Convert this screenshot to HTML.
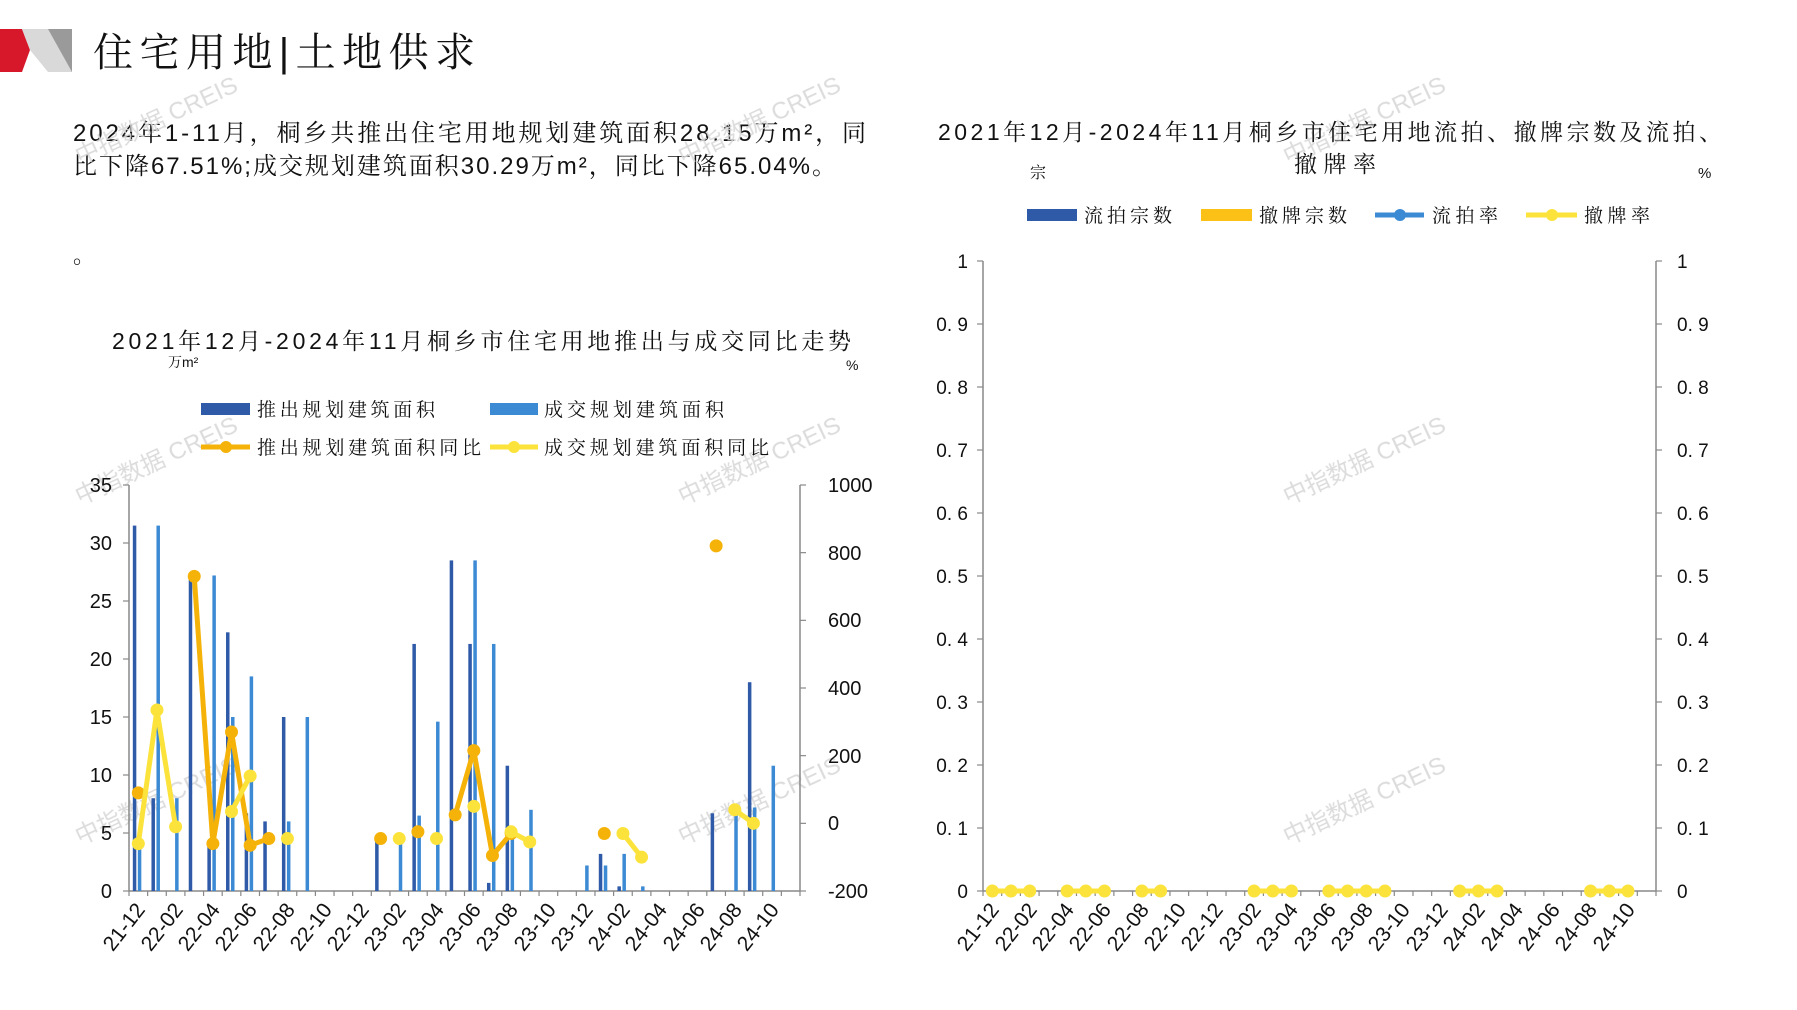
<!DOCTYPE html>
<html><head><meta charset="utf-8">
<style>
html,body{margin:0;padding:0;background:#fff;}
svg{display:block;font-family:"Liberation Sans","Noto Serif CJK SC",serif;}
</style></head>
<body>
<svg id="s" width="1797" height="1010" viewBox="0 0 1797 1010" xmlns="http://www.w3.org/2000/svg">
<polygon points="0,29 22,29 30,50 22,72 0,72" fill="#d7182a"/>
<polygon points="22,29 72,29 72,72 48,72 30,50" fill="#d9d9d9"/>
<polygon points="48,29 72,29 72,72" fill="#9a9a9a"/>
<text x="93" y="66" font-size="40" fill="#111" textLength="382">住宅用地|土地供求</text>
<text x="73" y="141" font-size="24" fill="#111" textLength="793">2024年1-11月，桐乡共推出住宅用地规划建筑面积28.15万m²，同</text>
<text x="73" y="174" font-size="24" fill="#111" textLength="763">比下降67.51%;成交规划建筑面积30.29万m²，同比下降65.04%。</text>
<text x="73" y="263" font-size="22" fill="#111">。</text>

<g fill="#d8d8d8" font-size="24" opacity="0.9" font-family="'Liberation Sans','Noto Sans CJK SC',sans-serif">
<text transform="translate(80,505) rotate(-25)">中指数据 CREIS</text>
<text transform="translate(683,505) rotate(-25)">中指数据 CREIS</text>
<text transform="translate(1288,505) rotate(-25)">中指数据 CREIS</text>
<text transform="translate(80,845) rotate(-25)">中指数据 CREIS</text>
<text transform="translate(683,845) rotate(-25)">中指数据 CREIS</text>
<text transform="translate(1288,845) rotate(-25)">中指数据 CREIS</text>
<text transform="translate(80,165) rotate(-25)">中指数据 CREIS</text>
<text transform="translate(683,165) rotate(-25)">中指数据 CREIS</text>
<text transform="translate(1288,165) rotate(-25)">中指数据 CREIS</text>
</g>

<!-- LEFT CHART -->
<text x="112" y="349" font-size="23" fill="#111" textLength="739">2021年12月-2024年11月桐乡市住宅用地推出与成交同比走势</text>
<text x="168" y="367" font-size="14" fill="#111">万m²</text>
<text x="846" y="370" font-size="14" fill="#111">%</text>
<rect x="201" y="403" width="49" height="12" fill="#2e5aa8"/>
<text x="257" y="416" font-size="19" fill="#111" textLength="178">推出规划建筑面积</text>
<rect x="490" y="403" width="48" height="12" fill="#3c8ad4"/>
<text x="544" y="416" font-size="19" fill="#111" textLength="180">成交规划建筑面积</text>
<line x1="201" y1="447" x2="250" y2="447" stroke="#f5b30a" stroke-width="5"/><circle cx="226" cy="447" r="6" fill="#f5b30a"/>
<text x="257" y="454" font-size="19" fill="#111" textLength="224">推出规划建筑面积同比</text>
<line x1="490" y1="447" x2="538" y2="447" stroke="#fbe33c" stroke-width="5"/><circle cx="514" cy="447" r="6" fill="#fbe33c"/>
<text x="544" y="454" font-size="19" fill="#111" textLength="225">成交规划建筑面积同比</text>

<g stroke="#888" stroke-width="1.5" fill="none">
<line x1="129" y1="485" x2="129" y2="891"/>
<line x1="800" y1="485" x2="800" y2="891"/>
<line x1="129" y1="891" x2="800" y2="891"/>
</g>
<g id="lticks" stroke="#888" stroke-width="1.2"></g>
<g font-size="20" fill="#111" text-anchor="end">
<text x="112" y="898">0</text><text x="112" y="840">5</text><text x="112" y="782">10</text><text x="112" y="724">15</text><text x="112" y="666">20</text><text x="112" y="608">25</text><text x="112" y="550">30</text><text x="112" y="492">35</text>
</g>
<g font-size="20" fill="#111">
<text x="828" y="898">-200</text><text x="828" y="830">0</text><text x="828" y="763">200</text><text x="828" y="695">400</text><text x="828" y="627">600</text><text x="828" y="560">800</text><text x="828" y="492">1000</text>
</g>
<g id="lbars"></g>
<g id="llines"></g>
<g font-size="21" fill="#111" text-anchor="end">
<text transform="translate(146,910) rotate(-52)">21-12</text>
<text transform="translate(184,910) rotate(-52)">22-02</text>
<text transform="translate(221,910) rotate(-52)">22-04</text>
<text transform="translate(258,910) rotate(-52)">22-06</text>
<text transform="translate(296,910) rotate(-52)">22-08</text>
<text transform="translate(333,910) rotate(-52)">22-10</text>
<text transform="translate(370,910) rotate(-52)">22-12</text>
<text transform="translate(407,910) rotate(-52)">23-02</text>
<text transform="translate(445,910) rotate(-52)">23-04</text>
<text transform="translate(482,910) rotate(-52)">23-06</text>
<text transform="translate(519,910) rotate(-52)">23-08</text>
<text transform="translate(557,910) rotate(-52)">23-10</text>
<text transform="translate(594,910) rotate(-52)">23-12</text>
<text transform="translate(631,910) rotate(-52)">24-02</text>
<text transform="translate(668,910) rotate(-52)">24-04</text>
<text transform="translate(706,910) rotate(-52)">24-06</text>
<text transform="translate(743,910) rotate(-52)">24-08</text>
<text transform="translate(780,910) rotate(-52)">24-10</text>
</g>

<!-- RIGHT CHART -->
<text x="938" y="140" font-size="23" fill="#111" textLength="784">2021年12月-2024年11月桐乡市住宅用地流拍、撤牌宗数及流拍、</text>
<text x="1294" y="172" font-size="23" fill="#111" textLength="82">撤牌率</text>
<text x="1030" y="178" font-size="16" fill="#111">宗</text>
<text x="1698" y="178" font-size="15" fill="#111">%</text>
<rect x="1027" y="209" width="50" height="12" fill="#2e5aa8"/>
<text x="1084" y="222" font-size="19" fill="#111" textLength="88">流拍宗数</text>
<rect x="1201" y="209" width="51" height="12" fill="#fbc116"/>
<text x="1259" y="222" font-size="19" fill="#111" textLength="88">撤牌宗数</text>
<line x1="1375" y1="215" x2="1424" y2="215" stroke="#3c8ad4" stroke-width="5"/><circle cx="1400" cy="215" r="6" fill="#3c8ad4"/>
<text x="1432" y="222" font-size="19" fill="#111" textLength="66">流拍率</text>
<line x1="1526" y1="215" x2="1577" y2="215" stroke="#fbe33c" stroke-width="5"/><circle cx="1552" cy="215" r="6" fill="#fbe33c"/>
<text x="1584" y="222" font-size="19" fill="#111" textLength="66">撤牌率</text>
<g stroke="#888" stroke-width="1.5">
<line x1="983" y1="261" x2="983" y2="891"/>
<line x1="1656" y1="261" x2="1656" y2="891"/>
<line x1="983" y1="891" x2="1656" y2="891"/>
</g>
<g id="rticks" stroke="#888" stroke-width="1.2"></g>
<g font-size="19" fill="#111" text-anchor="end">
<text x="968" y="898">0</text><text x="968" y="835">0. 1</text><text x="968" y="772">0. 2</text><text x="968" y="709">0. 3</text><text x="968" y="646">0. 4</text><text x="968" y="583">0. 5</text><text x="968" y="520">0. 6</text><text x="968" y="457">0. 7</text><text x="968" y="394">0. 8</text><text x="968" y="331">0. 9</text><text x="968" y="268">1</text>
</g>
<g font-size="19" fill="#111">
<text x="1677" y="898">0</text><text x="1677" y="835">0. 1</text><text x="1677" y="772">0. 2</text><text x="1677" y="709">0. 3</text><text x="1677" y="646">0. 4</text><text x="1677" y="583">0. 5</text><text x="1677" y="520">0. 6</text><text x="1677" y="457">0. 7</text><text x="1677" y="394">0. 8</text><text x="1677" y="331">0. 9</text><text x="1677" y="268">1</text>
</g>
<g id="rdots"></g>
<g font-size="21" fill="#111" text-anchor="end">
<text transform="translate(1000,910) rotate(-52)">21-12</text>
<text transform="translate(1038,910) rotate(-52)">22-02</text>
<text transform="translate(1075,910) rotate(-52)">22-04</text>
<text transform="translate(1112,910) rotate(-52)">22-06</text>
<text transform="translate(1150,910) rotate(-52)">22-08</text>
<text transform="translate(1187,910) rotate(-52)">22-10</text>
<text transform="translate(1224,910) rotate(-52)">22-12</text>
<text transform="translate(1262,910) rotate(-52)">23-02</text>
<text transform="translate(1299,910) rotate(-52)">23-04</text>
<text transform="translate(1337,910) rotate(-52)">23-06</text>
<text transform="translate(1374,910) rotate(-52)">23-08</text>
<text transform="translate(1411,910) rotate(-52)">23-10</text>
<text transform="translate(1449,910) rotate(-52)">23-12</text>
<text transform="translate(1486,910) rotate(-52)">24-02</text>
<text transform="translate(1524,910) rotate(-52)">24-04</text>
<text transform="translate(1561,910) rotate(-52)">24-06</text>
<text transform="translate(1598,910) rotate(-52)">24-08</text>
<text transform="translate(1636,910) rotate(-52)">24-10</text>
</g>
</svg>
<script>
(function(){
var NS="http://www.w3.org/2000/svg";
function el(p,t,a){var e=document.createElementNS(NS,t);for(var k in a)e.setAttribute(k,a[k]);document.getElementById(p).appendChild(e);return e;}
var L0=129,LW=671/36,B=891,H=406;
function X(i){return L0+LW*(i+0.5);}
function YL(v){return B-v*H/35;}
function YR(v){return B-(v+200)*H/1200;}
for(var i=0;i<=36;i++){var x=L0+LW*i;el("lticks","line",{x1:x,y1:B,x2:x,y2:B+5});}
[0,5,10,15,20,25,30,35].forEach(function(v){el("lticks","line",{x1:123,y1:YL(v),x2:129,y2:YL(v)});});
for(var v=-200;v<=1000;v+=200){el("lticks","line",{x1:800,y1:YR(v),x2:806,y2:YR(v)});}
var dark={0:31.5,1:8,3:27,4:3.8,5:22.3,6:6.7,7:6,8:15,13:4.5,15:21.3,17:28.5,18:21.3,19:0.7,20:10.8,25:3.2,26:0.4,31:6.7,33:18};
var light={0:3.9,1:31.5,2:8,4:27.2,5:15,6:18.5,8:6,9:15,14:4.5,15:6.5,16:14.6,18:28.5,19:21.3,20:5,21:7,24:2.2,25:2.2,26:3.2,27:0.4,32:7,33:7.2,34:10.8};
for(var k in dark){var x=X(+k)-5.5;el("lbars","rect",{x:x,y:YL(dark[k]),width:3.5,height:dark[k]*H/35,fill:"#2e5aa8"});}
for(var k in light){var x=X(+k)-0.5;el("lbars","rect",{x:x,y:YL(light[k]),width:3.5,height:light[k]*H/35,fill:"#3c8ad4"});}
function series(d,c){
 var keys=Object.keys(d).map(Number).sort(function(a,b){return a-b;});
 for(var j=0;j<keys.length-1;j++){if(keys[j+1]==keys[j]+1){el("llines","line",{x1:X(keys[j]),y1:YR(d[keys[j]]),x2:X(keys[j+1]),y2:YR(d[keys[j+1]]),stroke:c,"stroke-width":5,"stroke-linecap":"round"});}}
 keys.forEach(function(k){el("llines","circle",{cx:X(k),cy:YR(d[k]),r:6.5,fill:c});});
}
series({0:90,3:730,4:-60,5:270,6:-65,7:-45,13:-45,15:-25,17:25,18:215,19:-95,20:-30,25:-30,31:820},"#f5b30a");
series({0:-60,1:335,2:-10,5:35,6:140,8:-45,14:-45,16:-45,18:50,20:-25,21:-55,26:-30,27:-100,32:40,33:0},"#fbe33c");
var R0=983,RW=673/36,RB=891,RH=630;
function RX(i){return R0+RW*(i+0.5);}
for(var i=0;i<=36;i++){var x=R0+RW*i;el("rticks","line",{x1:x,y1:RB,x2:x,y2:RB+5});}
for(var t=0;t<=10;t++){var y=RB-RH*t/10;el("rticks","line",{x1:977,y1:y,x2:983,y2:y});el("rticks","line",{x1:1656,y1:y,x2:1662,y2:y});}
var pts=[0,1,2,4,5,6,8,9,14,15,16,18,19,20,21,25,26,27,32,33,34];
for(var j=0;j<pts.length-1;j++){if(pts[j+1]==pts[j]+1)el("rdots","line",{x1:RX(pts[j]),y1:RB,x2:RX(pts[j+1]),y2:RB,stroke:"#fbe33c","stroke-width":5});}
pts.forEach(function(k){el("rdots","circle",{cx:RX(k),cy:RB,r:6.5,fill:"#fbe33c"});});
})();
</script>
</body></html>
